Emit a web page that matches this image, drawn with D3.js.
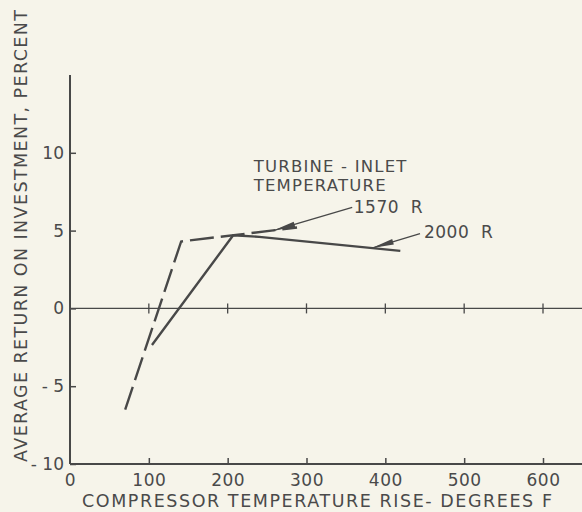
<!DOCTYPE html>
<html>
<head>
<meta charset="utf-8">
<script src="https://cdn.jsdelivr.net/npm/d3@7"></script>
<style>
  html, body { margin: 0; padding: 0; background: #f6f4ea; }
  svg { display: block; }
  text { font-family: "DejaVu Sans", sans-serif; fill: #4a4a4a; }
</style>
</head>
<body>
<script>
// compressor temperature rise (deg F) vs average return on investment (percent)
var x1570 = [70, 141, 288];
var y1570 = [-6.5, 4.3, 5.2];
var x2000 = [104, 207, 240, 419];
var y2000 = [-2.35, 4.7, 4.6, 3.7];
var xTicks = [0, 100, 200, 300, 400, 500, 600];
var yTicks = [-10, -5, 0, 5, 10];

var W = 582, H = 512, ink = "#484848";

var svg = d3.select("body").append("svg")
    .attr("width", W)
    .attr("height", H);

var x = d3.scaleLinear().domain([0, 600]).range([70, 543]);
var y = d3.scaleLinear().domain([-10, 15]).range([464, 75]);

/* bottom axis, ticks pointing up */
var gx = svg.append("g")
    .attr("transform", "translate(0," + y(-10) + ")")
    .call(d3.axisBottom(x).tickValues(xTicks).tickSizeInner(-6).tickSizeOuter(0).tickPadding(10));
gx.select(".domain").remove();
gx.selectAll("line").attr("stroke", ink).attr("stroke-width", 1.5);
gx.selectAll("text").style("font-size", "17px").style("letter-spacing", "0.5px").attr("fill", "#4a4a4a");
gx.selectAll(".tick").filter(function(d){ return d == 0; }).select("line").remove();

svg.append("line")
    .attr("x1", x(0)).attr("x2", x(650))
    .attr("y1", y(-10)).attr("y2", y(-10))
    .attr("stroke", ink).attr("stroke-width", 2);

/* left axis, ticks pointing right */
var gy = svg.append("g")
    .attr("transform", "translate(" + x(0) + ",0)")
    .call(d3.axisLeft(y).tickValues(yTicks).tickSizeInner(-6).tickSizeOuter(0).tickPadding(6)
        .tickFormat(function(d){ return d < 0 ? "- " + Math.abs(d) : d; }));
gy.select(".domain").remove();
gy.selectAll("line").attr("stroke", ink).attr("stroke-width", 1.5);
gy.selectAll("text").style("font-size", "17px").attr("fill", "#4a4a4a");

svg.append("line")
    .attr("x1", x(0)).attr("x2", x(0))
    .attr("y1", y(15)).attr("y2", y(-10))
    .attr("stroke", ink).attr("stroke-width", 2);

/* zero line with small crossing ticks */
svg.append("line")
    .attr("x1", x(0)).attr("x2", x(650))
    .attr("y1", y(0)).attr("y2", y(0))
    .attr("stroke", ink).attr("stroke-width", 1.3);
svg.selectAll("line.zt")
    .data(xTicks.slice(1))
    .enter().append("line")
    .attr("class", "zt")
    .attr("x1", function(d){ return x(d); }).attr("x2", function(d){ return x(d); })
    .attr("y1", y(0) - 5).attr("y2", y(0) + 5)
    .attr("stroke", ink).attr("stroke-width", 1.3);

/* curves */
var line = d3.line()
    .x(function(d){ return x(d[0]); })
    .y(function(d){ return y(d[1]); });

svg.append("path")
    .datum(d3.zip(x2000, y2000))
    .attr("d", line)
    .attr("fill", "none").attr("stroke", ink).attr("stroke-width", 2.4)
    .attr("stroke-linejoin", "round");

svg.append("path")
    .datum(d3.zip(x1570, y1570))
    .attr("d", line)
    .attr("fill", "none").attr("stroke", ink).attr("stroke-width", 2.4)
    .attr("stroke-dasharray", "24,7");

/* annotations */
function arrow(fromX, fromY, tipX, tipY) {
    var x0 = x(fromX), y0 = y(fromY), x1 = x(tipX), y1 = y(tipY);
    svg.append("line")
        .attr("x1", x0).attr("y1", y0).attr("x2", x1).attr("y2", y1)
        .attr("stroke", ink).attr("stroke-width", 1.3);
    var ang = Math.atan2(y1 - y0, x1 - x0);
    var len = 22, half = 2.8;
    var bx = x1 - len * Math.cos(ang), by = y1 - len * Math.sin(ang);
    var nx = -Math.sin(ang) * half, ny = Math.cos(ang) * half;
    svg.append("path")
        .attr("d", "M" + x1 + "," + y1 + "L" + (bx + nx) + "," + (by + ny) + "L" + (bx - nx) + "," + (by - ny) + "Z")
        .attr("fill", ink);
}
arrow(358, 6.5, 258, 5.0);
arrow(444, 4.8, 383, 3.88);

svg.append("text")
    .attr("x", x(233)).attr("y", y(8.75))
    .style("font-size", "16.5px").style("letter-spacing", "1.2px")
    .text("TURBINE - INLET");
svg.append("text")
    .attr("x", x(233)).attr("y", y(7.55))
    .style("font-size", "16.5px").style("letter-spacing", "1.2px")
    .text("TEMPERATURE");
svg.append("text")
    .attr("x", x(360)).attr("y", y(6.1))
    .style("font-size", "17px").style("letter-spacing", "0.5px").attr("xml:space", "preserve")
    .text("1570  R");
svg.append("text")
    .attr("x", x(449)).attr("y", y(4.55))
    .style("font-size", "17px").style("letter-spacing", "0.5px").attr("xml:space", "preserve")
    .text("2000  R");

/* axis titles */
svg.append("text")
    .attr("x", 82).attr("y", 507)
    .attr("textLength", 470).attr("lengthAdjust", "spacing")
    .style("font-size", "17.5px")
    .text("COMPRESSOR TEMPERATURE RISE- DEGREES F");

svg.append("text")
    .attr("transform", "translate(27,462) rotate(-90)")
    .attr("textLength", 452).attr("lengthAdjust", "spacing")
    .style("font-size", "17.5px")
    .text("AVERAGE RETURN ON INVESTMENT, PERCENT");
</script>
</body>
</html>
